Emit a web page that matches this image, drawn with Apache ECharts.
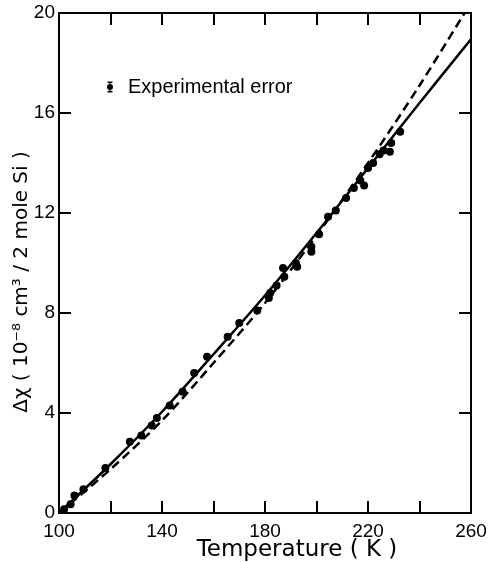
<!DOCTYPE html>
<html>
<head>
<meta charset="utf-8">
<script src="https://cdn.jsdelivr.net/npm/echarts@6/dist/echarts.min.js"></script>
<style>
  html, body { margin: 0; padding: 0; background: #fff; }
  #chart { width: 491px; height: 562px; }
</style>
</head>
<body>
<div id="chart"></div>
<script>
// measured points (T in K, delta chi in 1e-8 cm3 / 2 mole Si)
const measured = [
  [102, 0.15], [104.5, 0.35], [106, 0.7], [109.5, 0.95], [118, 1.8],
  [127.5, 2.85], [132, 3.1], [136, 3.5], [138, 3.8], [143, 4.3],
  [148, 4.85], [152.5, 5.6], [157.5, 6.25], [165.5, 7.05], [170, 7.6],
  [177, 8.1], [181.5, 8.6], [182, 8.8], [184.5, 9.1], [187, 9.8],
  [187.5, 9.45], [192, 10], [192.5, 9.85], [198, 10.65], [198, 10.45],
  [201, 11.15], [204.5, 11.85], [207.5, 12.1], [211.5, 12.6], [214.5, 13],
  [217, 13.3], [218.5, 13.1], [220, 13.8], [222, 14.0], [224.5, 14.35],
  [226, 14.5], [228.5, 14.45], [229, 14.8], [232.5, 15.25]
];
// solid curve
const solidCurve = [
  [100, 0], [120, 1.95], [140, 4.05], [160, 6.35], [180, 8.7],
  [200, 11.2], [220, 13.8], [240, 16.4], [260, 18.95]
];
// dashed curve
const dashedCurve = [
  [100, 0], [120, 1.75], [140, 3.7], [160, 6.0], [180, 8.4],
  [200, 11.1], [220, 14.0], [240, 17.1], [257.5, 20]
];
const xTicks = [100, 140, 180, 220, 260];

const labelFont = 'Liberation Sans';
const titleFont = 'DejaVu Sans';
const chart = echarts.init(document.getElementById('chart'));

const tickOnly = {
  axisLine: { show: false, onZero: false },
  axisLabel: { show: false },
  axisTick: { show: true, inside: true, length: 12, lineStyle: { color: '#000', width: 2 } },
  splitLine: { show: false }
};

chart.setOption({
  backgroundColor: '#fff',
  animation: false,
  grid: {
    left: 59, right: 20, top: 13, bottom: 49,
    show: true, borderColor: '#000', borderWidth: 2
  },
  legend: {
    left: 102, top: 72,
    itemWidth: 26, itemHeight: 11,
    textStyle: { fontFamily: labelFont, fontSize: 20, color: '#000' },
    data: [{
      name: 'Experimental error',
      icon: 'path://M1,0H6V1.4H4.2V9.6H6V11H1V9.6H2.8V1.4H1Z M3.5,2.5A3,3 0 1,1 3.5,8.5A3,3 0 1,1 3.5,2.5Z',
      itemStyle: { color: '#000' }
    }]
  },
  xAxis: [{
    type: 'value', min: 100, max: 260, interval: 20,
    axisLine: { show: true, onZero: false, lineStyle: { color: '#000', width: 2 } },
    axisTick: { show: true, inside: true, length: 12, lineStyle: { color: '#000', width: 2 } },
    axisLabel: {
      margin: 9, color: '#000', fontFamily: labelFont, fontSize: 19,
      formatter: v => xTicks.indexOf(v) >= 0 ? String(v) : ''
    },
    splitLine: { show: false }
  }, Object.assign({ type: 'value', min: 100, max: 260, interval: 20, position: 'top' }, tickOnly)],
  yAxis: [{
    type: 'value', min: 0, max: 20, interval: 4,
    axisLine: { show: true, onZero: false, lineStyle: { color: '#000', width: 2 } },
    axisTick: { show: true, inside: true, length: 12, lineStyle: { color: '#000', width: 2 } },
    axisLabel: { margin: 4, color: '#000', fontFamily: labelFont, fontSize: 19 },
    splitLine: { show: false }
  }, Object.assign({ type: 'value', min: 0, max: 20, interval: 4, position: 'right' }, tickOnly)],
  graphic: [{
    type: 'text', x: 297, y: 550,
    style: { text: 'Temperature ( K )', fontFamily: titleFont, fontSize: 23, fill: '#000', align: 'center', verticalAlign: 'middle' }
  }, {
    type: 'text', x: 22, y: 282, rotation: Math.PI / 2,
    style: { text: 'Δχ ( 10⁻⁸ cm³ / 2 mole Si )', fontFamily: titleFont, fontSize: 20, fill: '#000', align: 'center', verticalAlign: 'middle' }
  }],
  series: [{
    name: 'Experimental error', type: 'scatter', data: measured,
    symbol: 'circle', symbolSize: 8, itemStyle: { color: '#000', opacity: 1 }, z: 3
  }, {
    name: 'solid', type: 'line', data: solidCurve, smooth: 0.3, showSymbol: false,
    lineStyle: { color: '#000', width: 2.5 }
  }, {
    name: 'dashed', type: 'line', data: dashedCurve, smooth: 0.3, showSymbol: false,
    lineStyle: { color: '#000', width: 2.5, type: [9, 5] }
  }]
});
</script>
</body>
</html>
